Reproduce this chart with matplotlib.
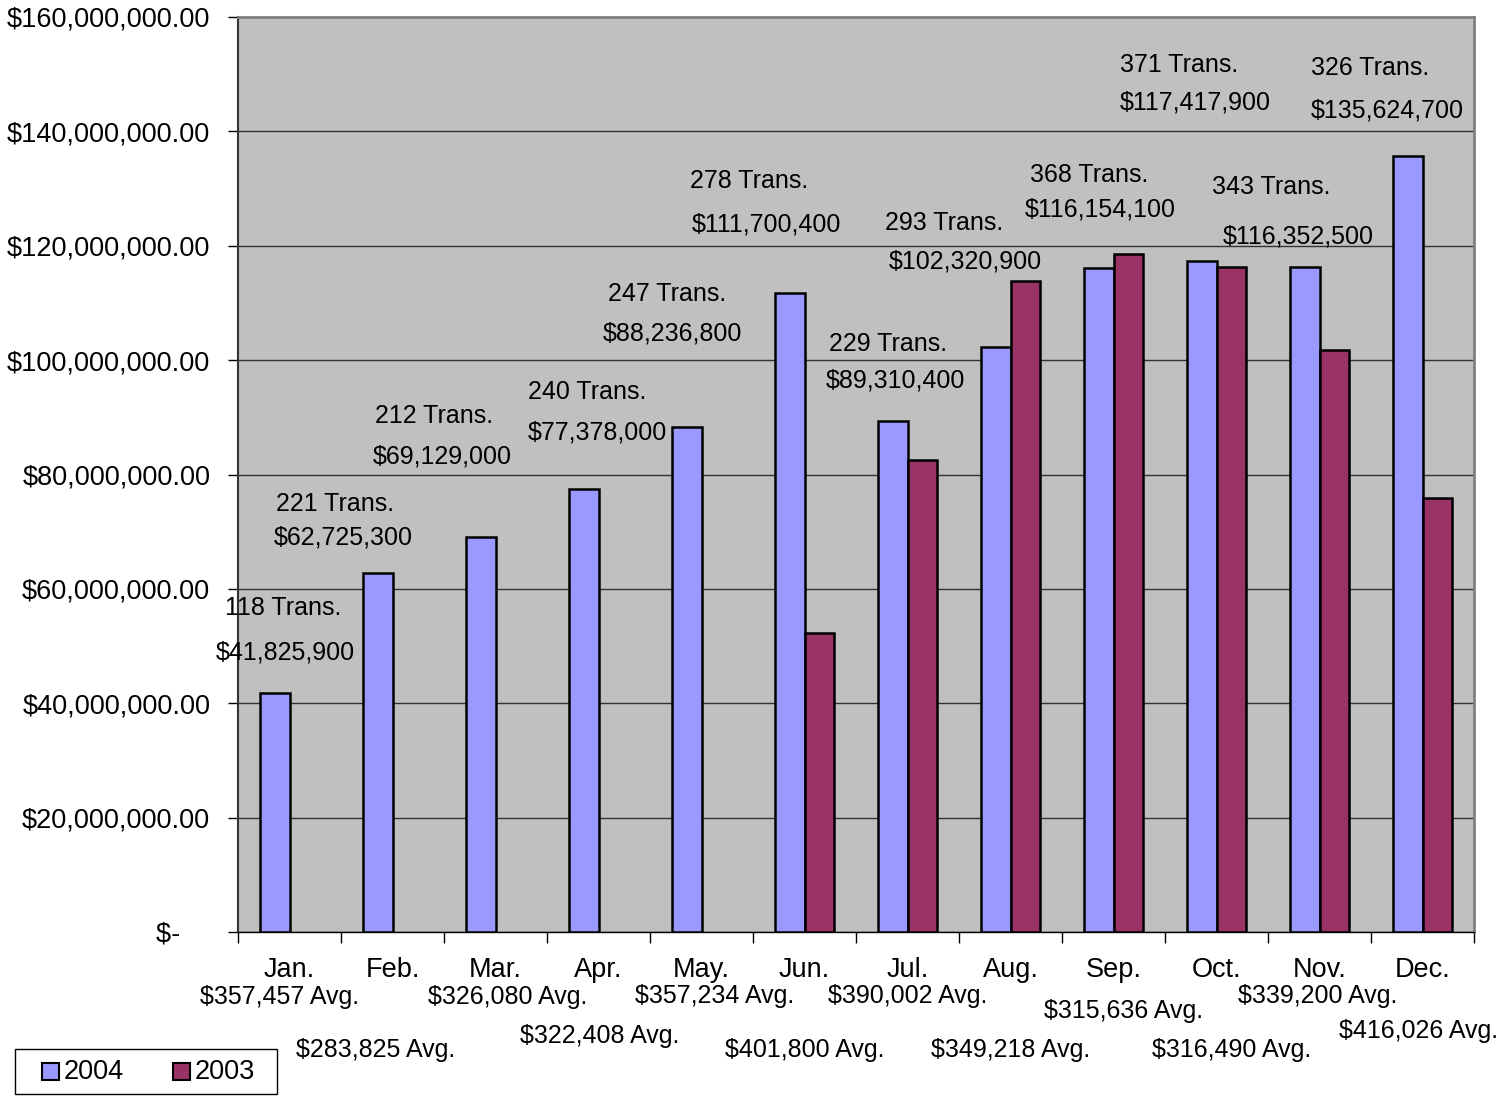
import matplotlib.pyplot as plt
import numpy as np
from matplotlib.transforms import blended_transform_factory
from matplotlib.patches import Rectangle
from matplotlib.ticker import FuncFormatter, MultipleLocator

plt.rcParams['font.family'] = ['Liberation Sans', 'DejaVu Sans']

months = ["Jan.", "Feb.", "Mar.", "Apr.", "May.", "Jun.", "Jul.", "Aug.", "Sep.", "Oct.", "Nov.", "Dec."]
sales_2004 = [41825900, 62725300, 69129000, 77378000, 88236800, 111700400,
              89310400, 102320900, 116154100, 117417900, 116352500, 135624700]
# 2003 only from June on
sales_2003 = [np.nan, np.nan, np.nan, np.nan, np.nan, 52300000,
              82500000, 113800000, 118500000, 116300000, 101700000, 75900000]
transactions = [118, 221, 212, 240, 247, 278, 229, 293, 368, 371, 343, 326]
avg_labels = ["$357,457", "$283,825", "$326,080", "$322,408", "$357,234", "$401,800",
              "$390,002", "$349,218", "$315,636", "$316,490", "$339,200", "$416,026"]
series_names = ["2004", "2003"]
series_colors = ["#9999FF", "#993366"]

# label placement (hand-positioned, like the original)
trans_dx = [-0.06, -0.56, -0.60, -0.11, -0.33, -0.54, -0.19, -0.64, -0.24, -0.36, -0.47, -0.51]
trans_y = [56.6, 74.8, 90.2, 94.4, 111.5, 131.3, 102.8, 124.0, 132.3, 151.6, 130.2, 151.0]
money_dx = [-0.04, -0.48, -0.52, -0.01, -0.28, -0.37, -0.12, -0.44, -0.13, -0.21, -0.21, -0.34]
money_y = [48.8, 68.9, 83.2, 87.4, 104.7, 123.8, 96.5, 117.3, 126.4, 145.1, 121.7, 143.7]
avg_dx = [-0.10, -0.16, 0.12, 0.01, 0.13, 0.0, 0.0, 0.0, 0.10, 0.15, -0.02, -0.04]
avg_py = [997, 1050, 997, 1036, 996, 1050, 996, 1050, 1011, 1050, 996, 1031]

W, H = 1496, 1097
fig = plt.figure(figsize=(W / 100, H / 100), dpi=100)
ax = fig.add_axes((238 / W, (H - 932) / H, 1236 / W, 915 / H))
ax.set_facecolor("#C0C0C0")

x = np.arange(len(months))
bw = 0.29
ax.bar(x - bw / 2, sales_2004, bw, color=series_colors[0], edgecolor="black", linewidth=1.8, zorder=3)
ax.bar(x + bw / 2, sales_2003, bw, color=series_colors[1], edgecolor="black", linewidth=1.8, zorder=3)

ax.set_xlim(-0.5, len(months) - 0.5)
ax.set_ylim(0, 160000000)
ax.yaxis.set_major_locator(MultipleLocator(20000000))
ax.yaxis.set_major_formatter(FuncFormatter(lambda v, p: "$-    " if v == 0 else f"${v:,.2f}"))
ax.grid(axis="y", color="#333333", linewidth=1, zorder=1)
ax.tick_params(axis="y", length=7, width=1, direction="out", pad=13, labelsize=19.5)
ax.set_xticks(np.arange(-0.5, len(months), 1.0))
ax.set_xticklabels([])
ax.tick_params(axis="x", length=8, width=1, direction="out")

for s in ["top", "right"]:
    ax.spines[s].set_color("#808080")
    ax.spines[s].set_linewidth(2)
ax.spines["left"].set_color("#333333")
ax.spines["left"].set_linewidth(1.5)
ax.spines["bottom"].set_linewidth(1)

for i in range(len(months)):
    ax.text(i + trans_dx[i], trans_y[i] * 1e6, f"{transactions[i]} Trans.",
            ha="center", va="center", fontsize=18, zorder=4)
    ax.text(i + money_dx[i], money_y[i] * 1e6, f"${sales_2004[i]:,}",
            ha="center", va="center", fontsize=18, zorder=4)

tr = blended_transform_factory(ax.transData, fig.transFigure)
for i, m in enumerate(months):
    ax.text(i, 1 - 970 / H, m, transform=tr, ha="center", va="center", fontsize=19.5)
    ax.text(i + avg_dx[i], 1 - avg_py[i] / H, f"{avg_labels[i]} Avg.", transform=tr,
            ha="center", va="center", fontsize=18)

# legend box drawn by hand to match the spreadsheet look
fig.patches.append(Rectangle((15 / W, 1 - 1094 / H), 262 / W, 45 / H, transform=fig.transFigure,
                             facecolor="white", edgecolor="black", linewidth=1))
for k, (name, col) in enumerate(zip(series_names, series_colors)):
    x0 = 42 + k * 131
    fig.patches.append(Rectangle((x0 / W, 1 - 1080 / H), 17 / W, 17 / H, transform=fig.transFigure,
                                 facecolor=col, edgecolor="black", linewidth=1.5))
    fig.text((x0 + 22) / W, 1 - 1072 / H, name, ha="left", va="center", fontsize=19.5)

fig.savefig("out.png", dpi=100)
